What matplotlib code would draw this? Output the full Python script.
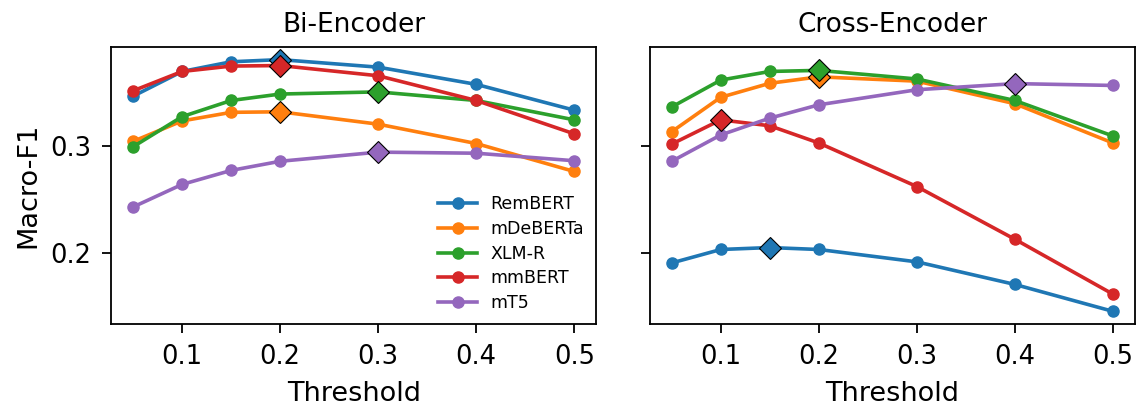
import matplotlib
matplotlib.use("Agg")
import matplotlib.pyplot as plt
import numpy as np

thresholds = [0.05, 0.1, 0.15, 0.2, 0.3, 0.4, 0.5]
models = ["RemBERT", "mDeBERTa", "XLM-R", "mmBERT", "mT5"]
colors = ["#1f77b4", "#ff7f0e", "#2ca02c", "#d62728", "#9467bd"]

bi_rembert = [0.346, 0.369, 0.378, 0.380, 0.373, 0.357, 0.333]
bi_mdeberta = [0.304, 0.323, 0.331, 0.3315, 0.320, 0.302, 0.276]
bi_xlmr = [0.299, 0.327, 0.342, 0.348, 0.350, 0.342, 0.324]
bi_mmbert = [0.351, 0.369, 0.374, 0.3745, 0.365, 0.342, 0.311]
bi_mt5 = [0.243, 0.264, 0.277, 0.2855, 0.294, 0.293, 0.286]

ce_rembert = [0.191, 0.2035, 0.2053, 0.2035, 0.192, 0.171, 0.146]
ce_mdeberta = [0.313, 0.345, 0.358, 0.364, 0.360, 0.339, 0.3025]
ce_xlmr = [0.336, 0.361, 0.369, 0.370, 0.362, 0.342, 0.309]
ce_mmbert = [0.3015, 0.324, 0.3185, 0.3025, 0.262, 0.213, 0.162]
ce_mt5 = [0.2855, 0.310, 0.3256, 0.338, 0.352, 0.3577, 0.356]

panels = [
    ("Bi-Encoder", [bi_rembert, bi_mdeberta, bi_xlmr, bi_mmbert, bi_mt5]),
    ("Cross-Encoder", [ce_rembert, ce_mdeberta, ce_xlmr, ce_mmbert, ce_mt5]),
]

plt.rcParams["axes.linewidth"] = 1.3

fig, axes = plt.subplots(1, 2, figsize=(11.4, 4.09), dpi=100, sharey=True)
fig.subplots_adjust(left=0.0974, right=0.9956, bottom=0.208, top=0.885, wspace=0.11)

for ax, (title, series) in zip(axes, panels):
    for name, vals, c in zip(models, series, colors):
        ax.plot(thresholds, vals, marker="o", color=c, lw=2.6, ms=8, label=name)
        i = int(np.argmax(vals))
        ax.plot(thresholds[i], vals[i], marker="D", color=c, ms=11.5,
                markeredgecolor="black", markeredgewidth=0.8, zorder=5)
    ax.set_title(title, fontsize=19, pad=11)
    ax.set_xlabel("Threshold", fontsize=19.5, labelpad=8)
    ax.set_xticks([0.1, 0.2, 0.3, 0.4, 0.5])
    ax.tick_params(labelsize=18.5, length=6.5, width=1.3, pad=8)

axes[0].set_ylabel("Macro-F1", fontsize=19.5, labelpad=6)
axes[0].set_yticks([0.2, 0.3])
axes[0].legend(loc="lower right", frameon=False, fontsize=12.5,
               handlelength=2.2, borderaxespad=0.3, labelspacing=0.38)

fig.savefig("out.png", dpi=100)
